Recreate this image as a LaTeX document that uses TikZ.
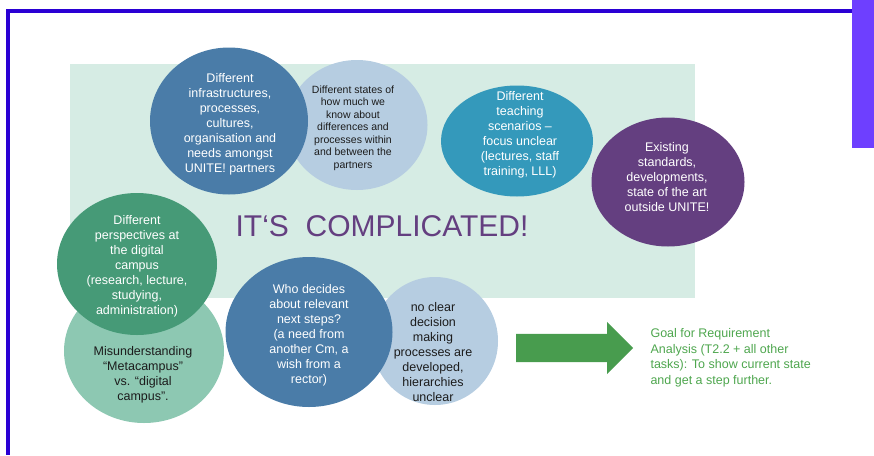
\documentclass[tikz,border=0pt]{standalone}
\usepackage{fontspec}
\setmainfont{Liberation Sans}
\usetikzlibrary{shapes.geometric,shapes.arrows}

\definecolor{uniteblue}{RGB}{74,124,168}
\definecolor{paleblue}{RGB}{182,205,225}
\definecolor{tealblue}{RGB}{52,153,187}
\definecolor{unitepurple}{RGB}{100,63,128}
\definecolor{deepgreen}{RGB}{70,154,119}
\definecolor{mintgreen}{RGB}{141,200,178}
\definecolor{backmint}{RGB}{214,236,228}
\definecolor{arrowgreen}{RGB}{72,156,78}
\definecolor{goalgreen}{RGB}{78,166,78}
\definecolor{frameblue}{RGB}{42,0,212}
\definecolor{tabviolet}{RGB}{110,63,255}
\definecolor{darktext}{RGB}{28,28,28}

\begin{document}
\begin{tikzpicture}[x=1pt,y=-1pt,
  blob/.style={ellipse,inner sep=0pt,draw=none},
  bodytext/.style={align=center,text=white,font=\fontsize{12.5}{15}\selectfont},
  darkbody/.style={bodytext,text=darktext},
  smallbody/.style={align=center,text=darktext,font=\fontsize{10.5}{12.5}\selectfont}]
\useasboundingbox (0,0) rectangle (874,455);

% frame and tab
\draw[frameblue,line width=3.5pt] (874,11) -- (8,11) -- (8,455);
\fill[tabviolet] (852,0) rectangle (874,148);

% background panel
\fill[backmint] (70,64) rectangle (695,298);

% top row
\node[blob,fill=paleblue,minimum width=141pt,minimum height=130pt] (states) at (357,125) {};
\node[blob,fill=uniteblue,minimum width=158pt,minimum height=147pt] (infra) at (229,121) {};
\node[blob,fill=tealblue,minimum width=152pt,minimum height=111pt] (teaching) at (517,141) {};
\node[blob,fill=unitepurple,minimum width=153pt,minimum height=129pt] (standards) at (668,182) {};

\node[bodytext] (infra text) at (230,124) {Different\\infrastructures,\\processes,\\cultures,\\organisation and\\needs amongst\\UNITE! partners};
\node[smallbody] (states text) at (353,128) {Different states of\\how much we\\know about\\differences and\\processes within\\and between the\\partners};
\node[bodytext] (teaching text) at (520,135) {Different\\teaching\\scenarios --\\focus unclear\\(lectures, staff\\training, LLL)};
\node[bodytext] (standards text) at (667,177) {Existing\\standards,\\developments,\\state of the art\\outside UNITE!};

% title
\node[text=unitepurple,font=\fontsize{30}{36}\selectfont] (title) at (382,226) {IT‘S~~COMPLICATED!};

% bottom row
\node[blob,fill=mintgreen,minimum width=160pt,minimum height=144pt] (misunder) at (144,351) {};
\node[blob,fill=deepgreen,minimum width=160pt,minimum height=142pt] (perspectives) at (137,264) {};
\node[blob,fill=paleblue,minimum width=126pt,minimum height=128pt] (decision) at (435,341) {};
\node[blob,fill=uniteblue,minimum width=167pt,minimum height=150pt] (decides) at (309,332) {};

\node[bodytext] (perspectives text) at (137,266) {Different\\perspectives at\\the digital\\campus\\(research, lecture,\\studying,\\administration)};
\node[darkbody] (misunder text) at (143,375) {Misunderstanding\\“Metacampus”\\vs. “digital\\campus”.};
\node[bodytext] (decides text) at (309,335) {Who decides\\about relevant\\next steps?\\(a need from\\another Cm, a\\wish from a\\rector)};
\node[darkbody] (decision text) at (433,352) {no clear\\decision\\making\\processes are\\developed,\\hierarchies\\unclear};

% goal
\node[single arrow,fill=arrowgreen,inner xsep=0pt,inner ysep=14pt,minimum height=117pt,minimum width=52pt,
  single arrow head extend=12pt,single arrow head indent=0pt,anchor=tail] (goal arrow) at (516,348) {};
\node[anchor=west,align=left,text=goalgreen,font=\fontsize{12.5}{15.5}\selectfont] (goal) at (647,358)
  {Goal for Requirement\\Analysis (T2.2 + all other\\tasks): To show current state\\and get a step further.};
\end{tikzpicture}
\end{document}
